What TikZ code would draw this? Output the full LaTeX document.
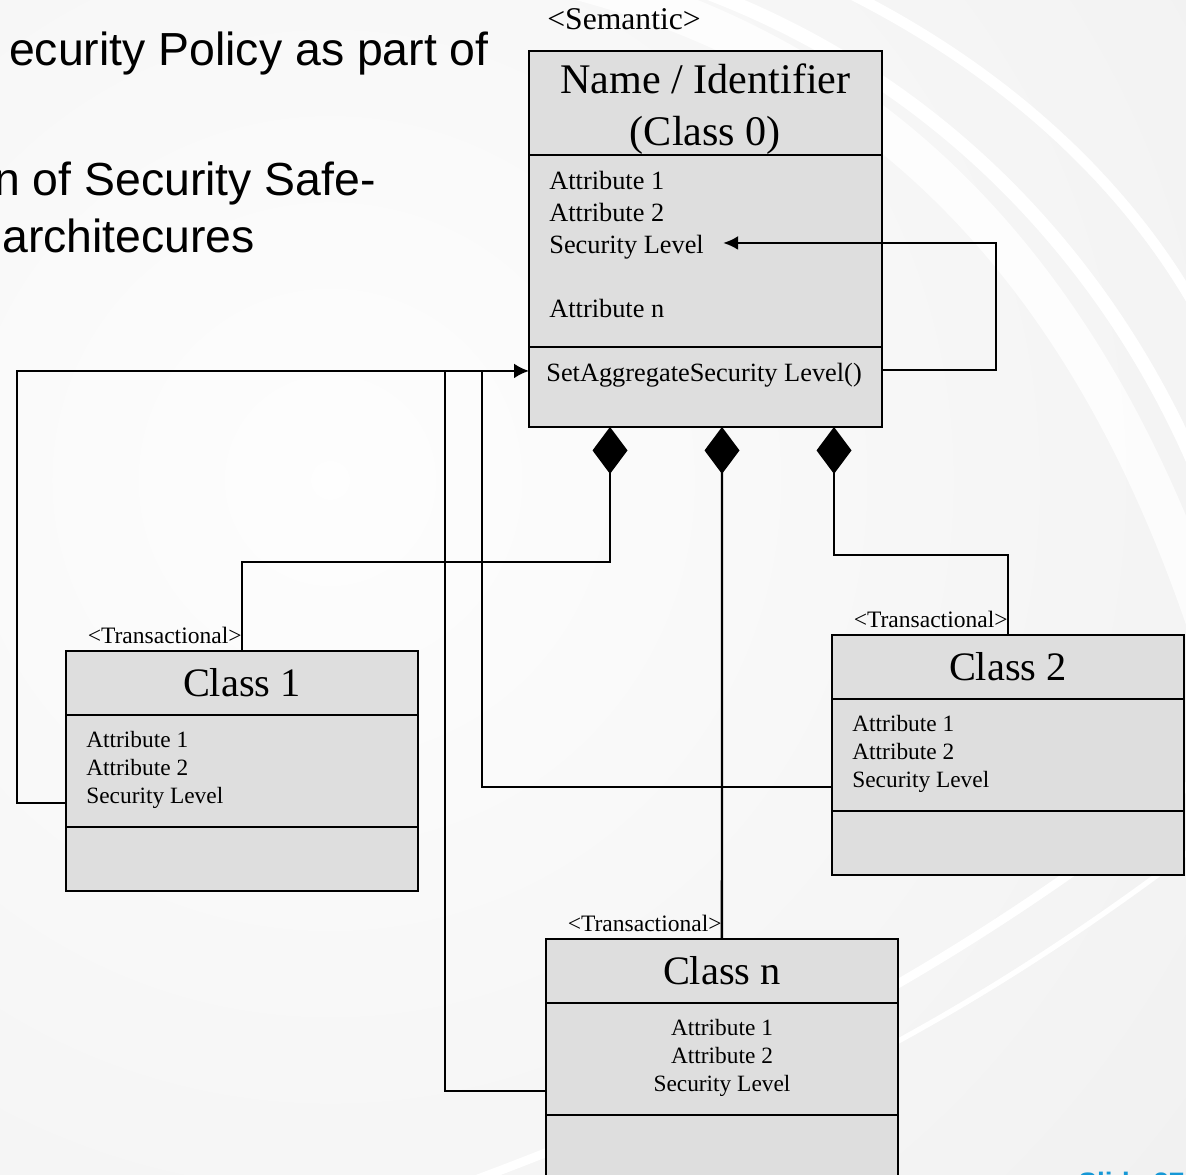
\documentclass[tikz,border=0pt]{standalone}
\usepackage{fontspec}
\setmainfont{Liberation Serif}
\newfontfamily\slidefont{Liberation Sans}
\usetikzlibrary{calc,positioning,arrows.meta}
\definecolor{boxgray}{RGB}{222,222,222}
\definecolor{slideblue}{RGB}{22,152,214}
\tikzset{
	classbox/.style={draw,line width=1.4pt,fill=boxgray,minimum width=7.04cm,inner sep=0pt,outer sep=0pt},
	headbox/.style={classbox,minimum height=1.28cm,font=\fontsize{23}{28}\selectfont},
	attrbox/.style={classbox,minimum height=2.24cm},
	opbox/.style={classbox,minimum height=1.28cm},
	attr/.style={inner sep=0pt,font=\fontsize{13.3}{16}\selectfont},
	bigattr/.style={inner sep=0pt,font=\fontsize{15}{18}\selectfont},
	stereo/.style={inner sep=0pt,font=\fontsize{13.4}{16}\selectfont},
	conn/.style={line width=1.4pt},
	comp/.style={conn,{Diamond[length=0.94cm,width=0.7cm]}-},
	slidetext/.style={inner sep=0pt,font=\slidefont\fontsize{26.4}{32}\selectfont},
}

\begin{document}
\begin{tikzpicture}[x=0.02cm,y=-0.02cm]
	\clip (0,0) rectangle (1186,1175);
	% slide background
	\fill[gray!11] (0,0) rectangle (1186,1175);
	\shade[inner color=gray!1,outer color=gray!11] (330,480) circle (22cm);
	\begin{scope}[white,line cap=round]
		\draw[line width=22pt,opacity=0.8] (480,-40) .. controls (850,20) and (1100,250) .. (1230,700);
		\draw[line width=8pt] (640,-30) .. controls (950,60) and (1150,300) .. (1230,560);
		\draw[line width=6pt] (800,-30) .. controls (1050,80) and (1180,250) .. (1230,380);
		\draw[line width=5pt] (420,1200) .. controls (700,1100) and (950,980) .. (1220,760);
		\draw[line width=3pt] (520,1200) .. controls (780,1120) and (1000,1000) .. (1230,820);
	\end{scope}
	
	\node[slidetext,anchor=base east] (bullet1) at (489,66) {ecurity Policy as part of};
	\node[slidetext,anchor=base east] (bullet2) at (376,196) {n of Security Safe-};
	\node[slidetext,anchor=base west] (bullet3) at (2,253) {architecures};
	\node[inner sep=0pt,anchor=base west,text=slideblue,font=\slidefont\bfseries\fontsize{16}{19}\selectfont] (slidenum) at (1078,1192) {Slide 27};
	
	% class 0
	\node[headbox,anchor=north west,minimum width=7.06cm,minimum height=2.08cm] (c0head) at (529,51) {};
	\node[align=center,inner sep=0pt,font=\fontsize{24}{29.5}\selectfont] (c0title) at ($(c0head.center)+(0,6)$) {Name / Identifier\\(Class 0)};
	\node[attrbox,below=0pt of c0head,minimum width=7.06cm,minimum height=3.84cm] (c0attr) {};
	\node[opbox,below=0pt of c0attr,minimum width=7.06cm,minimum height=1.6cm] (c0op) {};
	\node[stereo,font=\fontsize{18}{22}\selectfont,anchor=base west] (c0stereo) at ($(c0head.north west)+(18,-21)$) {\textless Semantic\textgreater};
	\foreach \txt/\dy/\nm in {Attribute 1/35/a1,Attribute 2/67/a2,Security Level/99/sec,Attribute n/163/an}
		\node[bigattr,anchor=base west] (c0\nm) at ($(c0attr.north west)+(20,\dy)$) {\txt};
	\node[bigattr,anchor=base west] (c0set) at ($(c0op.north west)+(17,35)$) {SetAggregateSecurity Level()};
	
	% transactional classes
	\foreach \cls/\x/\y/\lbl in {c1/66/651/1,c2/832/635/2,cn/546/939/n}{
		\node[headbox,anchor=north west] (\cls head) at (\x,\y) {Class \lbl};
		\node[attrbox,below=0pt of \cls head] (\cls attr) {};
		\node[opbox,below=0pt of \cls attr] (\cls op) {};
		\node[stereo,anchor=base east] (\cls stereo) at ($(\cls head.north)+(0,-8)$) {\textless Transactional\textgreater};
		\coordinate (\cls port) at ($(\cls attr.north west)+(0,88)$);
	}
	\foreach \cls in {c1,c2}
		\foreach \txt/\dy/\nm in {Attribute 1/33/a1,Attribute 2/61/a2,Security Level/89/sec}
			\node[attr,anchor=base west] (\cls\nm) at ($(\cls attr.north west)+(20,\dy)$) {\txt};
	\foreach \txt/\dy/\nm in {Attribute 1/33/a1,Attribute 2/61/a2,Security Level/89/sec}
		\node[attr,anchor=base] (cn\nm) at ($(cnattr.north)+(0,\dy)$) {\txt};
	
	% connectors
	\coordinate (c0in) at ($(c0op.north west)+(0,24)$);
	\coordinate (c0out) at ($(c0op.north east)+(0,23)$);
	\coordinate (c0back) at ($(c0sec.base east)+(19,-11)$);
	\draw[conn,-{Latex[length=0.3cm,width=0.28cm]}] (c0out) -- ++(114,0) |- (c0back);
	\draw[conn,-{Latex[length=0.3cm,width=0.3cm]}] (c1port) -- ++(-49,0) |- (c0in);
	\draw[conn] (c2port) -| ($(c0in)+(-47,0)$);
	\draw[conn] (cnport) -| ($(c0in)+(-84,0)$);
	\draw[comp] ($(c0op.south west)+(81,0)$) -- ++(0,135) -| (c1head.north);
	\draw[comp] ($(c0op.south west)+(193,0)$) -- (cnhead.north);
	\draw[comp] ($(c0op.south west)+(305,0)$) -- ++(0,128) -| (c2head.north);
\end{tikzpicture}
\end{document}
